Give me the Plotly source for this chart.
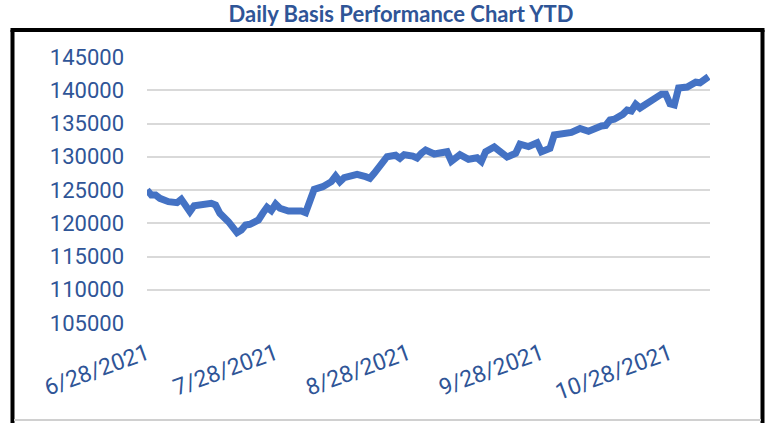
import plotly.graph_objects as go

# ---- data ----
dates = [
    "2021-06-28", "2021-06-29", "2021-06-30", "2021-07-01", "2021-07-03", "2021-07-05",
    "2021-07-06", "2021-07-07", "2021-07-08", "2021-07-09", "2021-07-11", "2021-07-13",
    "2021-07-14", "2021-07-15", "2021-07-17", "2021-07-18", "2021-07-19", "2021-07-20",
    "2021-07-21", "2021-07-22", "2021-07-24", "2021-07-25", "2021-07-26", "2021-07-27",
    "2021-07-28", "2021-07-29", "2021-07-31", "2021-08-03", "2021-08-04", "2021-08-05",
    "2021-08-06", "2021-08-08", "2021-08-09", "2021-08-10", "2021-08-11", "2021-08-12",
    "2021-08-13", "2021-08-15", "2021-08-16", "2021-08-18", "2021-08-19", "2021-08-20",
    "2021-08-21", "2021-08-22", "2021-08-23", "2021-08-24", "2021-08-25", "2021-08-26",
    "2021-08-27", "2021-08-29", "2021-08-30", "2021-08-31", "2021-09-01", "2021-09-03",
    "2021-09-06", "2021-09-07", "2021-09-08", "2021-09-09", "2021-09-11", "2021-09-13",
    "2021-09-14", "2021-09-15", "2021-09-17", "2021-09-18", "2021-09-20", "2021-09-22",
    "2021-09-23", "2021-09-25", "2021-09-27", "2021-09-28", "2021-09-30", "2021-10-01",
    "2021-10-03", "2021-10-05", "2021-10-07", "2021-10-09", "2021-10-12", "2021-10-13",
    "2021-10-14", "2021-10-15", "2021-10-17", "2021-10-18", "2021-10-19", "2021-10-20",
    "2021-10-21", "2021-10-24", "2021-10-26", "2021-10-27", "2021-10-28", "2021-10-29",
    "2021-10-30", "2021-11-01", "2021-11-03", "2021-11-04", "2021-11-06",
]
balance = [
    125000, 124250, 124250, 123750, 123240, 123090,
    123600, 122740, 121740, 122640, 122890, 123000,
    122740, 121500, 120230, 119240, 118580, 118980,
    119740, 119840, 120490, 121500, 122400, 121890,
    122890, 122250, 121840, 121840, 121590, 123350,
    125100, 125500, 125900, 126250, 127100, 126250,
    126850, 127100, 127360, 127000, 126760, 127510,
    128410, 129260, 130010, 130110, 130220, 129770,
    130310, 130110, 129810, 130520, 131020, 130410,
    130760, 129320, 129770, 130310, 129620, 129840,
    129290, 130760, 131470, 130970, 129960, 130520,
    131890, 131540, 132110, 130760, 131270, 133270,
    133420, 133650, 134250, 133830, 134620, 134710,
    135530, 135650, 136380, 137030, 136880, 137890,
    137330, 138430, 139410, 139410, 137960, 137780,
    140340, 140490, 141210, 141120, 142040,
]
tick_dates = ["2021-06-28", "2021-07-28", "2021-08-28", "2021-09-28", "2021-10-28"]
tick_labels = ["6/28/2021", "7/28/2021", "8/28/2021", "9/28/2021", "10/28/2021"]
y_ticks = [105000, 110000, 115000, 120000, 125000, 130000, 135000, 140000, 145000]
y_tick_labels = ["105000", "110000", "115000", "120000", "125000",
                 "130000", "135000", "140000", "145000"]

TEXT = "#2F5597"
FONT = "Roboto, 'Liberation Sans', sans-serif"

fig = go.Figure()
fig.add_trace(go.Scatter(
    x=dates, y=balance, mode="lines",
    line=dict(color="#4472C4", width=7),
    hoverinfo="x+y", showlegend=False,
))

W, H = 766, 423
# plot area in screen pixels: x 147..710, y 57..323
PL, PR, PT, PB = 147, 710, 57, 323
def px(x):
    return (x - PL) / (PR - PL)
def py(y):
    return (PB - y) / (PB - PT)

shapes = [
    dict(type="line", xref="paper", yref="paper", x0=px(12.5), x1=px(12.5), y0=py(30), y1=py(440),
         line=dict(color="black", width=4)),
    dict(type="line", xref="paper", yref="paper", x0=px(762.5), x1=px(762.5), y0=py(30), y1=py(440),
         line=dict(color="black", width=4)),
    dict(type="line", xref="paper", yref="paper", x0=px(10.5), x1=px(764.5), y0=py(30), y1=py(30),
         line=dict(color="black", width=4)),
    dict(type="line", xref="paper", yref="paper", x0=px(14), x1=px(761), y0=py(420), y1=py(420),
         line=dict(color="#D0D0D0", width=2)),
]

fig.update_layout(
    width=W, height=H,
    margin=dict(l=PL, r=W - PR, t=PT, b=H - PB, pad=0),
    paper_bgcolor="white", plot_bgcolor="white",
    title=dict(text="<b>Daily Basis Performance Chart YTD</b>", x=401 / W, xanchor="center",
               y=1 - 14 / H, yanchor="middle",
               font=dict(family="Lato, 'Open Sans', sans-serif", size=22, color=TEXT)),
    xaxis=dict(
        type="date", range=["2021-06-28", "2021-11-06 08:00"],
        tickmode="array", tickvals=tick_dates, ticktext=tick_labels,
        tickangle=-20, showgrid=False, zeroline=False, showline=False,
        ticks="", ticklabelstandoff=12,
        tickfont=dict(family=FONT, size=23, color=TEXT),
    ),
    yaxis=dict(
        range=[105000, 145000], tickmode="array", tickvals=y_ticks, ticktext=y_tick_labels,
        showgrid=True, gridcolor="#D9D9D9", gridwidth=2,
        zeroline=False, showline=False, ticks="", ticklabelstandoff=22,
        tickfont=dict(family=FONT, size=22, color=TEXT),
    ),
    shapes=shapes,
)

# remove the default 8px page margin so the figure fills the window exactly
fig.write_html("out.html", config={"displayModeBar": False},
               post_script="document.body.style.margin='0';")
